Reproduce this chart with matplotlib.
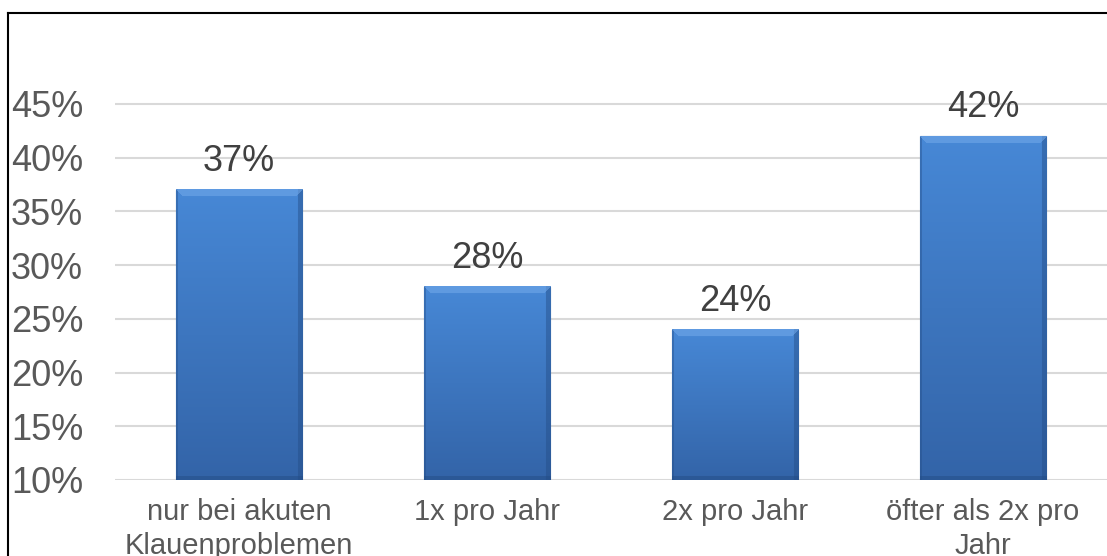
import numpy as np
import matplotlib.pyplot as plt
from matplotlib.colors import to_rgb

categories = ['nur bei akuten\nKlauenproblemen', '1x pro Jahr', '2x pro Jahr', 'öfter als 2x pro\nJahr']
values = [37, 28, 24, 42]
yticks = [10, 15, 20, 25, 30, 35, 40, 45]

plt.rcParams['font.family'] = ['Liberation Sans', 'DejaVu Sans']
grey = '#595959'

fig = plt.figure(figsize=(11.07, 5.56), dpi=100)
ax = fig.add_axes([0.104, 0.1367, 0.896, 0.773])
ax.set_xlim(-0.5, len(categories) - 0.5)
ax.set_ylim(10, 50)

x = np.arange(len(categories))
bars = ax.bar(x, values, width=0.51, bottom=0, color='#3d76c0',
              edgecolor='#24518c', linewidth=0.8, zorder=2)

top_c = np.array(to_rgb('#4788d6'))
bot_c = np.array(to_rgb('#3364a8'))
light = np.array(to_rgb('#74aaea'))
dark = np.array(to_rgb('#234c85'))

# bevelled gradient image inside each bar
for b in bars:
    x0, y0 = ax.transData.transform((b.get_x(), 10))
    x1, y1 = ax.transData.transform((b.get_x() + b.get_width(), b.get_height()))
    w, h = int(round(x1 - x0)), int(round(y1 - y0))
    t = np.linspace(0, 1, h)[:, None, None]          # 0 at bottom, 1 at top
    img = np.repeat(bot_c + (top_c - bot_c) * t, w, axis=1)
    rows, cols = np.meshgrid(np.arange(h), np.arange(w), indexing='ij')
    bev = 7
    from_top = h - 1 - rows
    top_mask = (from_top < bev) & (cols >= from_top) & (cols < w - from_top)
    right_mask = cols >= w - 5
    left_mask = cols < 2
    bottom_mask = rows < 4
    img[right_mask] = img[right_mask] * 0.55 + dark * 0.45
    img[bottom_mask] = img[bottom_mask] * 0.5 + dark * 0.5
    img[left_mask] = img[left_mask] * 0.6 + dark * 0.4
    img[top_mask] = img[top_mask] * 0.45 + light * 0.55
    ax.imshow(img, origin='lower', aspect='auto', zorder=2.5, interpolation='bilinear',
              extent=(b.get_x(), b.get_x() + b.get_width(), 10, b.get_height()))
    ax.text(b.get_x() + b.get_width() / 2, b.get_height() + 1.0, f'{b.get_height():.0f}%',
            ha='center', va='bottom', fontsize=26, color='#404040', zorder=4)

ax.set_xlim(-0.5, len(categories) - 0.5)
ax.set_ylim(10, 50)
ax.set_yticks(yticks)
ax.set_yticklabels([f'{t}%' for t in yticks], fontsize=26, color=grey)
ax.set_xticks(x)
ax.set_xticklabels(categories, fontsize=21, color=grey, linespacing=1.25)
ax.tick_params(length=0)
ax.tick_params(axis='x', pad=13)
for lab in ax.get_yticklabels():
    lab.set_ha('left')
ax.yaxis.set_tick_params(pad=75)
ax.grid(axis='y', color='#d9d9d9', linewidth=1.5, zorder=0)
ax.set_axisbelow(True)
for s in ax.spines.values():
    s.set_visible(False)

# outer frame (left and top edges visible)
fig.add_artist(plt.Line2D([0.0075, 0.0075], [0, 1 - 13 / 556], color='black', linewidth=1.5))
fig.add_artist(plt.Line2D([0.0075, 1.0], [1 - 13 / 556, 1 - 13 / 556], color='black', linewidth=1.5))

fig.savefig('out.png', dpi=100)
